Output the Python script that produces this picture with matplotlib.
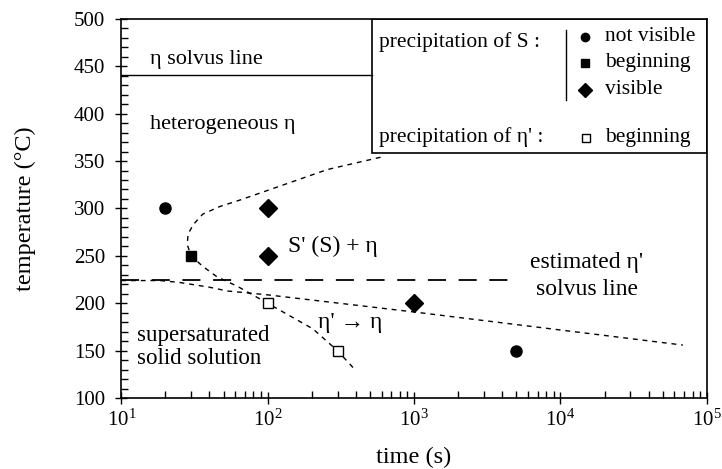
import matplotlib.pyplot as plt
import matplotlib.ticker as mticker
from matplotlib.patches import Rectangle

plt.rcParams['font.family'] = ['Liberation Serif', 'DejaVu Serif']
plt.rcParams['mathtext.fontset'] = 'stix'

# 数据点 (时间 s, 温度 °C)
circle_t = [20, 5000]
circle_T = [300, 150]
square_t = [30]
square_T = [250]
diamond_t = [100, 100, 1000]
diamond_T = [300, 250, 200]
open_sq_t = [100, 300]
open_sq_T = [200, 150]

# C 曲线 (S 析出开始)
c_curve_t = [590, 255, 104, 65, 47, 36, 31, 28.6, 28.2, 30, 36, 45, 62, 100, 204, 300, 395]
c_curve_T = [354, 341, 320, 309, 302, 294, 283, 273, 262, 250, 239, 228, 218, 200, 173, 150, 130]

# 平缓曲线 (η' -> η)
low_curve_t = [10, 18.5, 25, 40, 53, 99, 985, 68500]
low_curve_T = [224, 224, 222, 217, 213, 209, 191, 156]

# 溶解线
eta_solvus_t = [10, 516]
eta_solvus_T = [441, 441]
eta_p_solvus_t = [10, 4520]
eta_p_solvus_T = [225, 225]

fig = plt.figure(figsize=(7.22, 4.69), dpi=100)
ax = fig.add_axes([0.168, 0.151, 0.811, 0.809])

ax.plot(c_curve_t, c_curve_T, color='black', lw=1.0, ls=(0, (3.5, 3.5)))
ax.plot(low_curve_t, low_curve_T, color='black', lw=1.0, ls=(0, (3.5, 3.5)))
ax.plot(eta_solvus_t, eta_solvus_T, color='black', lw=1.0)
ax.plot(eta_p_solvus_t, eta_p_solvus_T, color='black', lw=1.3, ls=(0, (10, 7)))

ax.plot(circle_t, circle_T, 'o', color='black', ms=8, ls='none')
ax.plot(square_t, square_T, 's', color='black', ms=7.5, ls='none')
ax.plot(diamond_t, diamond_T, 'D', color='black', ms=9, ls='none')
ax.plot(open_sq_t, open_sq_T, 's', mfc='white', mec='black', mew=1.0, ms=7.5, ls='none')

ax.set_xscale('log')
ax.set_xlim(10, 1e5)
ax.set_ylim(100, 500)
ax.set_yticks(range(100, 501, 50))
ax.yaxis.set_minor_locator(mticker.MultipleLocator(10))
ax.xaxis.set_minor_locator(mticker.LogLocator(base=10, subs=range(2, 10), numticks=20))
ax.xaxis.set_minor_formatter(mticker.NullFormatter())
ax.tick_params(which='major', direction='inout', length=9, width=1, labelsize=15)
ax.tick_params(axis='y', which='major', pad=7)
ax.tick_params(which='minor', direction='in', length=5, width=1)
for s in ax.spines.values():
    s.set_linewidth(1.2)

ax.set_xlabel('time (s)', fontsize=17.5, labelpad=12)
ax.set_ylabel('temperature (°C)', fontsize=17.5, labelpad=27)

# 区域文字
ax.text(15.8, 457, 'η solvus line', fontsize=16, va='center')
ax.text(15.8, 388, 'heterogeneous η', fontsize=16, va='center')
ax.text(280, 260, "S' (S) + η", fontsize=17, ha='center', va='center')
ax.text(366, 180, "η' → η", fontsize=17, ha='center', va='center')
ax.text(12.9, 154, 'supersaturated\nsolid solution', fontsize=16.5, va='center', linespacing=1.15)
ax.text(15100, 229, "estimated η'\nsolvus line", fontsize=17, ha='center', va='center', linespacing=1.35)

# 图例框
tr = ax.transAxes
ax.add_patch(Rectangle((0.428, 0.647), 0.572, 0.353, transform=tr, fill=False, ec='black', lw=1.2))
ax.text(0.44, 0.939, 'precipitation of S :', transform=tr, fontsize=15.5, va='center')
ax.plot([0.759, 0.759], [0.787, 0.971], transform=tr, color='black', lw=1.0)
ax.plot([0.792], [0.953], 'o', transform=tr, color='black', ms=6)
ax.plot([0.792], [0.884], 's', transform=tr, color='black', ms=6)
ax.plot([0.792], [0.813], 'D', transform=tr, color='black', ms=7)
ax.text(0.826, 0.953, 'not visible', transform=tr, fontsize=15.5, va='center')
ax.text(0.826, 0.884, 'beginning', transform=tr, fontsize=15.5, va='center')
ax.text(0.826, 0.813, 'visible', transform=tr, fontsize=15.5, va='center')
ax.text(0.44, 0.687, "precipitation of η' :", transform=tr, fontsize=15.5, va='center')
ax.plot([0.794], [0.687], 's', transform=tr, mfc='white', mec='black', mew=1.0, ms=6)
ax.text(0.826, 0.687, 'beginning', transform=tr, fontsize=15.5, va='center')

plt.savefig('out.png', dpi=100)
